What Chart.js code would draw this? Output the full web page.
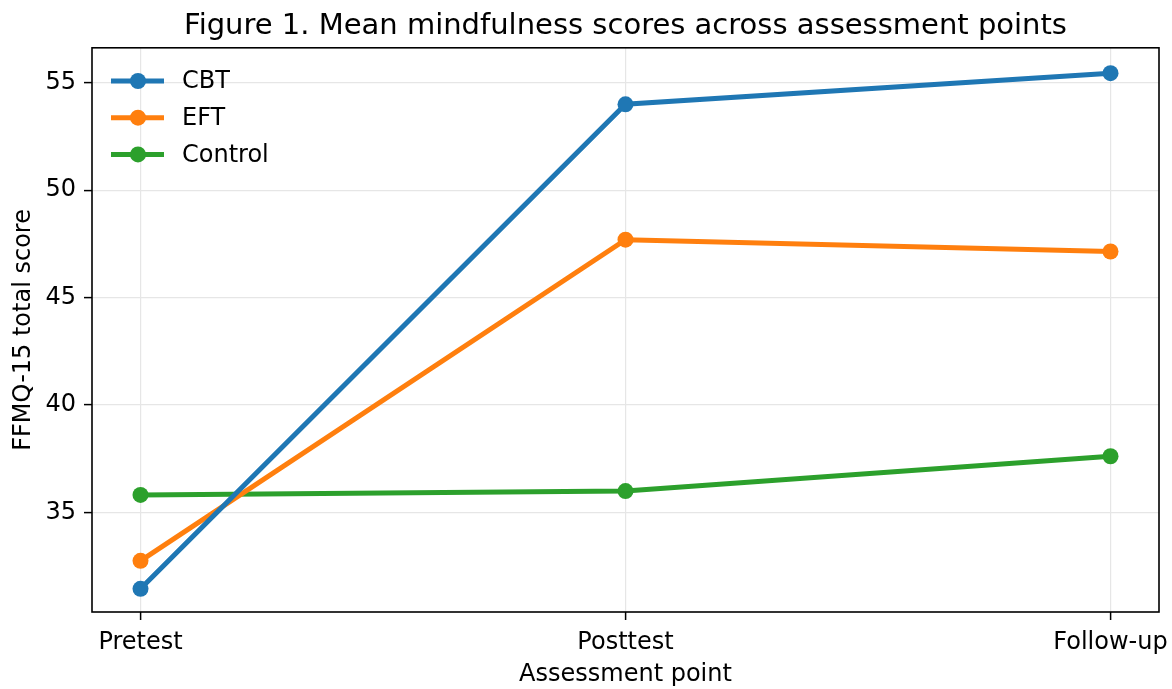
<!DOCTYPE html>
<html>
<head>
<meta charset="utf-8">
<script src="https://cdn.jsdelivr.net/npm/chart.js@4"></script>
<style>
  html, body { margin: 0; padding: 0; background: #fff; }
  #wrap { width: 1172px; height: 689px; }
</style>
</head>
<body>
<div id="wrap"><canvas id="chart" width="1172" height="689"></canvas></div>
<script>
// data
const points = ['Pretest', 'Posttest', 'Follow-up'];
const cbt = [31.45, 54.0, 55.45];
const eft = [32.75, 47.7, 47.15];
const control = [35.82, 36.0, 37.62];
const yTicks = [35, 40, 45, 50, 55];

const FONT = 'DejaVu Sans';

function toXY(vals) {
  return vals.map((v, i) => ({ x: i, y: v }));
}

// frame round the plot area, like matplotlib's spines
const framePlugin = {
  id: 'frame',
  afterDatasetsDraw(chart) {
    const { ctx, chartArea: a } = chart;
    ctx.save();
    ctx.strokeStyle = '#000';
    ctx.lineWidth = 1.6;
    ctx.strokeRect(a.left, a.top, a.right - a.left, a.bottom - a.top);
    ctx.restore();
  }
};

// legend with line + marker swatches
const legendPlugin = {
  id: 'lineLegend',
  afterDraw(chart) {
    const ctx = chart.ctx;
    ctx.save();
    ctx.font = '24px ' + FONT;
    ctx.textBaseline = 'middle';
    chart.data.datasets.forEach((ds, i) => {
      const y = 81 + i * 36.7;
      ctx.strokeStyle = ds.borderColor;
      ctx.lineWidth = 5;
      ctx.beginPath();
      ctx.moveTo(111, y);
      ctx.lineTo(164, y);
      ctx.stroke();
      ctx.fillStyle = ds.borderColor;
      ctx.beginPath();
      ctx.arc(138, y, 8, 0, Math.PI * 2);
      ctx.fill();
      ctx.fillStyle = '#000';
      ctx.fillText(ds.label, 182, y + 1);
    });
    ctx.restore();
  }
};

const mkSet = (label, vals, color) => ({
  label: label,
  data: toXY(vals),
  borderColor: color,
  backgroundColor: color,
  borderWidth: 5,
  pointRadius: 8,
  pointHoverRadius: 8,
  pointBorderWidth: 0,
  tension: 0
});

new Chart(document.getElementById('chart').getContext('2d'), {
  type: 'line',
  data: {
    datasets: [
      mkSet('CBT', cbt, '#1f77b4'),
      mkSet('EFT', eft, '#ff7f0e'),
      mkSet('Control', control, '#2ca02c')
    ]
  },
  options: {
    responsive: false,
    animation: false,
    layout: { padding: { left: 0, right: 13, top: 0, bottom: 0 } },
    plugins: {
      legend: { display: false },
      tooltip: { enabled: false },
      title: {
        display: true,
        fullSize: false,
        text: 'Figure 1. Mean mindfulness scores across assessment points',
        color: '#000',
        font: { family: FONT, size: 29, weight: 'normal' },
        padding: { top: 9, bottom: 4 }
      }
    },
    scales: {
      x: {
        type: 'linear',
        min: -0.1,
        max: 2.1,
        afterBuildTicks: axis => { axis.ticks = points.map((p, i) => ({ value: i })); },
        afterFit: axis => {
          axis.height = 77;
          // let the last label hang past the plot edge, as matplotlib does
          axis.paddingLeft = 0;
          axis.paddingRight = 0;
        },
        ticks: {
          color: '#000',
          font: { family: FONT, size: 24 },
          padding: 8,
          maxRotation: 0,
          callback: v => points[v]
        },
        grid: { color: '#e6e6e6', lineWidth: 1.2, tickColor: '#000', tickLength: 8, tickWidth: 1.5 },
        border: { display: false },
        title: {
          display: true,
          text: 'Assessment point',
          color: '#000',
          font: { family: FONT, size: 24 },
          padding: { top: 0, bottom: 0 }
        }
      },
      y: {
        min: 30.37,
        max: 56.63,
        afterBuildTicks: axis => { axis.ticks = yTicks.map(v => ({ value: v })); },
        afterFit: axis => { axis.width = 92; },
        ticks: {
          color: '#000',
          font: { family: FONT, size: 24 },
          padding: 8
        },
        grid: { color: '#e6e6e6', lineWidth: 1.2, tickColor: '#000', tickLength: 8, tickWidth: 1.5 },
        border: { display: false },
        title: {
          display: true,
          text: 'FFMQ-15 total score',
          color: '#000',
          font: { family: FONT, size: 24 },
          padding: { top: 9, bottom: 0 }
        }
      }
    }
  },
  plugins: [framePlugin, legendPlugin]
});
</script>
</body>
</html>
